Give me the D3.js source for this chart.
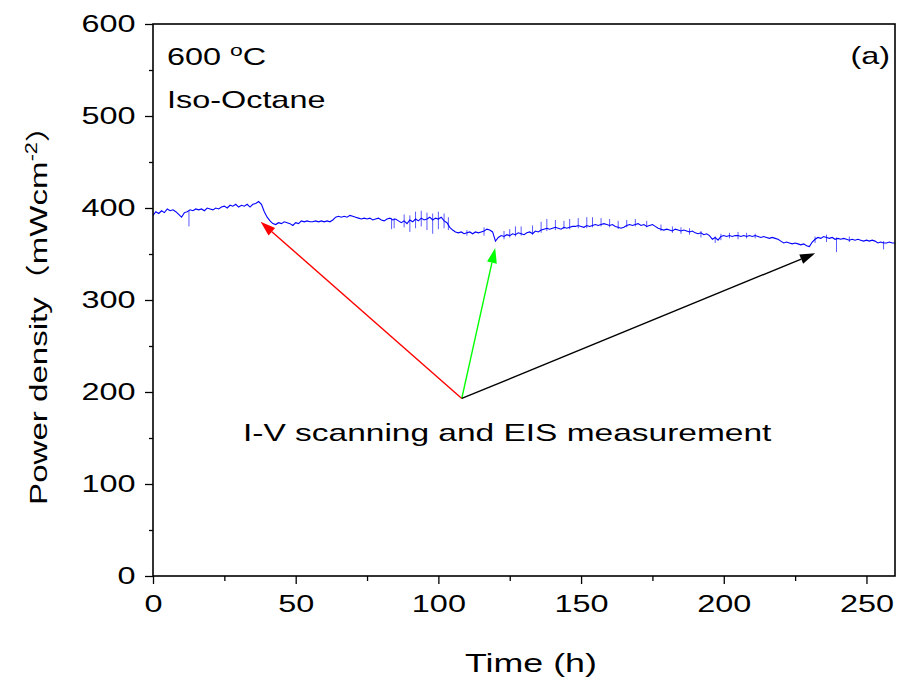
<!DOCTYPE html>
<html>
<head>
<meta charset="utf-8">
<script src="https://cdn.jsdelivr.net/npm/d3@7/dist/d3.min.js"></script>
<style>
  body { margin: 0; background: #fff; }
  svg text { font-family: "Liberation Sans", Arial, "Noto Sans CJK SC", sans-serif; fill: #000; }
</style>
</head>
<body>
<svg id="chart" width="900" height="682"></svg>
<script>
// hourly samples (mW cm^-2)
const hours = d3.range(0, 261);
const power = [
  392, 396, 394, 397, 395, 399, 397, 398, 396, 393, 390, 395, 396, 398, 397, 399, 398, 399, 397, 400,
  399, 398, 400, 399, 401, 402, 400, 403, 402, 404, 401, 403, 402, 404, 401, 404, 405, 407, 404, 396,
  390, 386, 383, 382, 384, 383, 385, 384, 383, 381, 384, 383, 386, 385, 386, 385, 385, 386, 385, 386,
  385, 386, 385, 387, 390, 391, 390, 391, 390, 392, 391, 390, 389, 388, 389, 388, 389, 387, 388, 389,
  387, 386, 388, 389, 387, 388, 386, 384, 386, 383, 387, 385, 388, 386, 389, 387, 388, 390, 387, 389,
  388, 390, 386, 384, 379, 376, 374, 373, 374, 372, 373, 374, 372, 374, 373, 374, 375, 377, 376, 374,
  364, 368, 370, 369, 371, 370, 372, 371, 373, 372, 371, 373, 374, 372, 375, 374, 376, 377, 378, 377,
  378, 379, 378, 377, 379, 378, 379, 380, 380, 381, 380, 379, 381, 380, 381, 382, 381, 382, 383, 382,
  381, 382, 380, 379, 378, 379, 381, 382, 381, 382, 383, 381, 382, 380, 381, 382, 380, 378, 377, 376,
  377, 376, 375, 377, 376, 375, 376, 375, 374, 375, 373, 372, 373, 371, 372, 370, 366, 368, 365, 369,
  370, 369, 370, 369, 370, 370, 369, 370, 369, 370, 369, 370, 369, 368, 369, 368, 367, 368, 367, 366,
  364, 362, 363, 362, 361, 362, 361, 360, 361, 359, 358, 363, 366, 368, 367, 369, 368, 367, 368, 366,
  367, 366, 367, 366, 365, 366, 365, 366, 365, 364, 365, 364, 365, 364, 362, 363, 362, 362, 363, 362,
  362
];

// short excursions drawn as thin vertical strokes
const spikeHours = [12.6, 83.6, 84.5, 88, 90, 92, 94, 96, 98, 100, 102, 103.5, 110, 116, 123, 125, 127, 129,
  133, 136, 138, 141, 144, 146, 149, 152, 154, 157, 160, 163, 166, 169, 173, 178, 182, 185, 188, 192, 197,
  199, 202, 205, 208, 211, 232, 236, 239.5, 244, 256];
const spikeLow = [380, 377, 378, 379, 374, 378, 380, 376, 372, 377, 378, 376, 370, 370, 366, 368, 369, 370,
  371, 373, 375, 376, 377, 377, 378, 378, 379, 380, 379, 377, 379, 380, 379, 375, 373, 372, 371, 368, 362,
  365, 367, 366, 367, 367, 362, 363, 352, 363, 355];
const spikeHigh = [397, 389, 389, 393, 392, 396, 397, 395, 394, 396, 394, 390, 376, 379, 375, 377, 380, 380,
  381, 385, 388, 387, 386, 388, 389, 390, 390, 389, 388, 386, 387, 388, 386, 382, 380, 379, 378, 375, 369,
  372, 373, 374, 373, 372, 369, 371, 368, 369, 364];

// arrows: common origin and three tips (h, mW cm^-2)
const arrowFrom = [108.2, 193];
const arrowTips = [[37.7, 385], [119.9, 356.5], [232, 350.7]];
const arrowColors = ['#ff0000', '#00ff00', '#000000'];

const xMajor = [0, 50, 100, 150, 200, 250];
const xMinor = [25, 75, 125, 175, 225];
const yMajor = [0, 100, 200, 300, 400, 500, 600];
const yMinor = [50, 150, 250, 350, 450, 550];

const SX = 1.35; // glyphs in the source are wide
const margin = { top: 24, right: 5, bottom: 106, left: 153 };
const W = 900, H = 682;
const iw = W - margin.left - margin.right, ih = H - margin.top - margin.bottom;

const svg = d3.select('#chart');
const g = svg.append('g').attr('transform', `translate(${margin.left},${margin.top})`);

const x = d3.scaleLinear().domain([0, 260]).range([0, iw]);
const y = d3.scaleLinear().domain([0, 600]).range([ih, 0]);

// minor ticks
g.append('g').attr('transform', `translate(0,${ih})`)
  .call(d3.axisBottom(x).tickValues(xMinor).tickSize(5).tickFormat(''))
  .call(a => a.select('.domain').remove())
  .call(a => a.selectAll('line').attr('stroke-width', 1.3));
g.append('g')
  .call(d3.axisLeft(y).tickValues(yMinor).tickSize(4).tickFormat(''))
  .call(a => a.select('.domain').remove())
  .call(a => a.selectAll('line').attr('stroke-width', 1.3));

// major ticks + labels
g.append('g').attr('transform', `translate(0,${ih})`)
  .call(d3.axisBottom(x).tickValues(xMajor).tickSize(8).tickPadding(11))
  .call(a => a.select('.domain').remove())
  .call(a => a.selectAll('line').attr('stroke-width', 1.3))
  .call(a => a.selectAll('text').attr('font-size', 24).attr('transform', `scale(${SX},1)`)
    .style('font-family', '"Liberation Sans", Arial, sans-serif'));
g.append('g')
  .call(d3.axisLeft(y).tickValues(yMajor).tickSize(8).tickPadding(5))
  .call(a => a.select('.domain').remove())
  .call(a => a.selectAll('line').attr('stroke-width', 1.3))
  .call(a => a.selectAll('text').attr('font-size', 24).attr('transform', `scale(${SX},1)`)
    .style('font-family', '"Liberation Sans", Arial, sans-serif'));

// data trace
g.append('g').selectAll('line').data(spikeHours).join('line')
  .attr('x1', d => x(d)).attr('x2', d => x(d))
  .attr('y1', (d, i) => y(spikeLow[i])).attr('y2', (d, i) => y(spikeHigh[i]))
  .attr('stroke', '#5a5aff').attr('stroke-width', 1);

g.append('path')
  .datum(hours)
  .attr('fill', 'none')
  .attr('stroke', '#0000ff')
  .attr('stroke-width', 1.1)
  .attr('d', d3.line().x(d => x(d)).y((d, i) => y(power[i])));

// frame
g.append('rect').attr('width', iw).attr('height', ih)
  .attr('fill', 'none').attr('stroke', '#000').attr('stroke-width', 1.6);

// arrows
const arrows = g.append('g');
arrowTips.forEach((tip, i) => {
  const x0 = x(arrowFrom[0]), y0 = y(arrowFrom[1]);
  const x1 = x(tip[0]), y1 = y(tip[1]);
  const ang = Math.atan2(y1 - y0, x1 - x0);
  const len = 15, half = 5;
  const bx = x1 - len * Math.cos(ang), by = y1 - len * Math.sin(ang);
  arrows.append('line')
    .attr('x1', x0).attr('y1', y0).attr('x2', bx).attr('y2', by)
    .attr('stroke', arrowColors[i]).attr('stroke-width', 1.4);
  const pts = [
    [x1, y1],
    [bx + half * Math.sin(ang), by - half * Math.cos(ang)],
    [bx - half * Math.sin(ang), by + half * Math.cos(ang)]
  ];
  arrows.append('path')
    .attr('d', 'M' + pts.map(p => p.join(',')).join('L') + 'Z')
    .attr('fill', arrowColors[i]);
});

// annotations
function stretched(sel, px, py) {
  return sel.attr('transform', `translate(${px},${py}) scale(${SX},1)`);
}
stretched(svg.append('text'), 167, 65).attr('font-size', 24)
  .call(t => t.append('tspan').text('600 '))
  .call(t => t.append('tspan').attr('dy', -9).attr('font-size', 17).text('o'))
  .call(t => t.append('tspan').attr('dy', 9).text('C'));
stretched(svg.append('text'), 167, 108).attr('font-size', 24).text('Iso-Octane');
stretched(svg.append('text'), 890, 64).attr('font-size', 24).attr('text-anchor', 'end').text('(a)');
stretched(svg.append('text'), 243, 441).attr('font-size', 24.8).text('I-V scanning and EIS measurement');

// axis titles
stretched(svg.append('text'), 531, 672).attr('font-size', 26.5)
  .attr('text-anchor', 'middle').text('Time (h)');

svg.append('text')
  .attr('transform', `translate(47,307) rotate(-90) scale(${SX},1)`)
  .attr('font-size', 24.5).attr('text-anchor', 'middle')
  .call(t => t.append('tspan').text('Power density'))
  .call(t => t.append('tspan').text('（mWcm'))
  .call(t => t.append('tspan').attr('dy', -10).attr('font-size', 16).text('-2'))
  .call(t => t.append('tspan').attr('dy', 10).text('）'));
</script>
</body>
</html>
